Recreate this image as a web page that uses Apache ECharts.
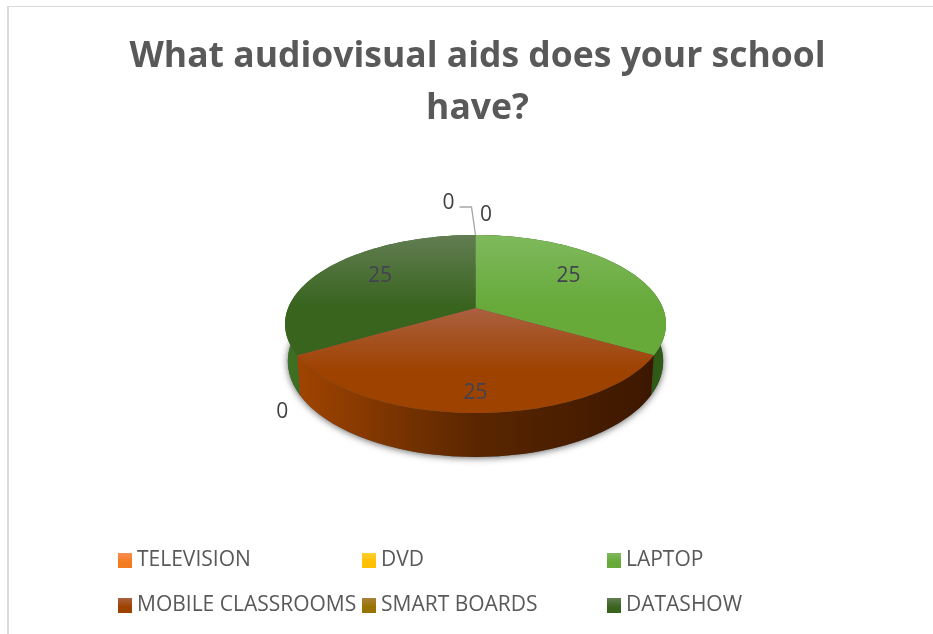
<!DOCTYPE html>
<html>
<head>
<meta charset="utf-8">
<style>
  html, body { margin: 0; padding: 0; background: #fff; }
  #chart { width: 933px; height: 634px; }
</style>
<script src="https://cdn.jsdelivr.net/npm/echarts@6/dist/echarts.min.js"></script>
</head>
<body>
<div id="chart"></div>
<script>
// Survey answers, in slice order clockwise from twelve o'clock.
const categories = ['TELEVISION', 'DVD', 'LAPTOP', 'MOBILE CLASSROOMS', 'SMART BOARDS', 'DATASHOW'];
const values = [0, 0, 25, 25, 0, 25];
const titleLines = ['What audiovisual aids does your school', 'have?'];

// Slice fills: top and bottom of each top-face gradient, then the side wall stops (left, middle, right).
const faceColors = [
  ['#f88e55', '#f47a1f'],
  ['#ffcf33', '#ffc000'],
  ['#7fb95c', '#67aa3a'],
  ['#ab6040', '#9e4200'],
  ['#a8823a', '#997300'],
  ['#627d52', '#38641e']
];
const wallColors = [
  ['#c55a11', '#c55a11', '#c55a11'],
  ['#bf9000', '#bf9000', '#bf9000'],
  ['#2a5312', '#2a5312', '#2f5c16'],
  ['#a04400', '#5a2600', '#3c1700'],
  ['#7f6000', '#7f6000', '#7f6000'],
  ['#3d7022', '#35661d', '#2e5c18']
];

// Label placement relative to the rim point at each slice's mid angle.
const labelOffsets = [[-27, -32], [10.5, -19.5], [-56, 8], [0, -20.5], [-15, 57], [53.4, 8]];

// Perspective of the tilted disc: the unit circle is carried to the screen by a homography.
const view = { cx: 475.5, apexY: 308, scaleX: 187.4, scaleY: -30.7, persp: 0.18, depth: 36, rimShrink: 0.985 };

const total = values.reduce((a, b) => a + b, 0);
const startAngles = values.map((_, i) => values.slice(0, i).reduce((a, b) => a + b, 0) / total * 360);

function topPoint(deg) {
  const t = deg * Math.PI / 180, x = Math.sin(t), y = Math.cos(t), w = 1 + view.persp * y;
  return [view.cx + view.scaleX * x / w, (view.scaleY * y + view.apexY) / w];
}
function bottomPoint(deg) {
  const t = deg * Math.PI / 180, y = Math.cos(t), w = 1 + view.persp * y;
  const p = topPoint(deg);
  return [view.cx + (p[0] - view.cx) * view.rimShrink, p[1] + view.depth / w];
}
function arc(fn, from, to) {
  const n = Math.max(1, Math.ceil(Math.abs(to - from) / 2)), pts = [];
  for (let i = 0; i <= n; i++) pts.push(fn(from + (to - from) * i / n));
  return pts;
}
function vertical(c) {
  return new echarts.graphic.LinearGradient(0, 0, 0, 1, [
    { offset: 0, color: c[0] },
    { offset: 0.6, color: c[1] },
    { offset: 1, color: c[1] }
  ]);
}

// Ground shadow under the lower rim.
function renderShadow() {
  return {
    type: 'polygon',
    shape: { points: arc(bottomPoint, 0, 360) },
    style: { fill: '#555', shadowColor: 'rgba(0,0,0,0.6)', shadowBlur: 7, shadowOffsetY: 1 }
  };
}

// Curved side walls; the top faces are drawn over whatever part lies behind them.
function renderWall(i) {
  return function (params, api) {
    const sweep = api.value(0) / total * 360;
    if (!sweep) return null;
    const from = startAngles[i], to = from + sweep;
    return {
      type: 'polygon',
      shape: { points: arc(topPoint, from, to).concat(arc(bottomPoint, to, from)) },
      style: {
        fill: new echarts.graphic.LinearGradient(0, 0, 1, 0, [
          { offset: 0, color: wallColors[i][0] },
          { offset: 0.5, color: wallColors[i][1] },
          { offset: 1, color: wallColors[i][2] }
        ])
      }
    };
  };
}

function renderFace(i) {
  return function (params, api) {
    const value = api.value(0), sweep = value / total * 360;
    const from = startAngles[i], to = from + sweep, mid = from + sweep / 2;
    const anchor = topPoint(mid), off = labelOffsets[i];
    const lx = anchor[0] + off[0], ly = anchor[1] + off[1];
    const children = [];
    if (sweep) {
      const apex = [view.cx, view.apexY];
      children.push({
        type: 'polygon',
        shape: { points: [apex].concat(arc(topPoint, from, to)) },
        style: { fill: vertical(faceColors[i]) }
      });
    }
    // The first zero slice sits away from the rim, so it carries a leader line.
    if (i === 0) {
      children.push({
        type: 'polyline',
        z2: 5,
        shape: { points: [anchor, [lx + 23, ly + 4], [lx + 11, ly + 4]] },
        style: { fill: 'none', stroke: '#a6a6a6', lineWidth: 1.3 }
      });
    }
    children.push({
      type: 'text',
      z2: 10,
      style: {
        x: lx, y: ly, text: String(value), align: 'center', verticalAlign: 'middle',
        fill: sweep ? '#434350' : '#404040',
        font: '21px "Open Sans", sans-serif'
      }
    });
    return { type: 'group', children: children };
  };
}

const series = [
  { type: 'custom', name: 'shadow', coordinateSystem: 'none', silent: true, z: 1, data: [[total]], renderItem: renderShadow }
];
categories.forEach((name, i) => {
  series.push({ type: 'custom', name: name + ' wall', coordinateSystem: 'none', silent: true, z: 2, data: [[values[i]]], renderItem: renderWall(i) });
});
categories.forEach((name, i) => {
  series.push({
    type: 'custom', name: name, coordinateSystem: 'none', silent: true, z: 3,
    data: [[values[i]]],
    itemStyle: { color: vertical(faceColors[i]) },
    renderItem: renderFace(i)
  });
});

function legendColumn(left, names) {
  return {
    left: left, top: 545, orient: 'vertical', itemWidth: 14, itemHeight: 15, itemGap: 24,
    icon: 'rect', selectedMode: false, data: names,
    textStyle: { color: '#595959', fontSize: 21, lineHeight: 21, fontFamily: '"Open Sans", sans-serif' }
  };
}

const chart = echarts.init(document.getElementById('chart'), null, { renderer: 'canvas' });
chart.setOption({
  animation: false,
  backgroundColor: '#ffffff',
  title: {
    text: titleLines.join('\n'),
    left: 472.5, textAlign: 'center', top: 26,
    textStyle: { color: '#595959', fontSize: 35.5, fontWeight: 'bold', lineHeight: 52, fontFamily: '"Open Sans", sans-serif' }
  },
  legend: [
    legendColumn(113, [categories[0], categories[3]]),
    legendColumn(357, [categories[1], categories[4]]),
    legendColumn(602, [categories[2], categories[5]])
  ],
  graphic: [
    { type: 'line', silent: true, shape: { x1: 8, y1: 6, x2: 8, y2: 634 }, style: { stroke: '#d9d9d9', lineWidth: 2 } },
    { type: 'line', silent: true, shape: { x1: 7, y1: 6.5, x2: 933, y2: 6.5 }, style: { stroke: '#d9d9d9', lineWidth: 1 } }
  ],
  series: series
});
</script>
</body>
</html>
